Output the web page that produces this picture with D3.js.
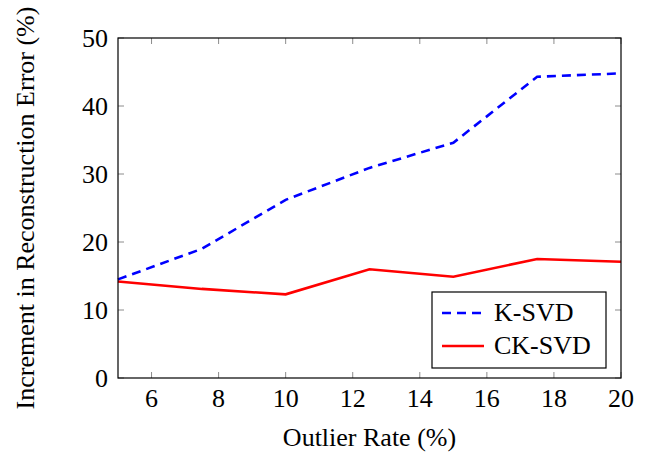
<!DOCTYPE html>
<html>
<head>
<meta charset="utf-8">
<script src="https://cdn.jsdelivr.net/npm/d3@7"></script>
</head>
<body style="margin:0; background:#fff">
<div id="chart"></div>
<script>
// Data
const outlierRates = [5, 7.5, 10, 12.5, 15, 17.5, 20];
const ksvd = [14.5, 19.0, 26.2, 30.9, 34.6, 44.3, 44.8];
const cksvd = [14.2, 13.1, 12.3, 16.0, 14.9, 17.5, 17.1];
const xTicks = [6, 8, 10, 12, 14, 16, 18, 20];
const yTicks = [0, 10, 20, 30, 40, 50];
const seriesNames = ['K-SVD', 'CK-SVD'];

const W = 648, H = 452;
const margin = { top: 38, right: 27, bottom: 74, left: 118 };
const width = W - margin.left - margin.right;
const height = H - margin.top - margin.bottom;
const fontSize = 26;
const serif = 'Liberation Serif';

const svg = d3.select('#chart').append('svg')
    .attr('width', W)
    .attr('height', H)
    .attr('font-family', serif);

const g = svg.append('g')
    .attr('transform', `translate(${margin.left},${margin.top})`);

const x = d3.scaleLinear().domain([5, 20]).range([0, width]);
const y = d3.scaleLinear().domain([0, 50]).range([height, 0]);

const tickColor = '#8c8c8c';
const tickLen = 6;

// Inner ticks, mirrored on all four sides
xTicks.forEach(t => {
    g.append('line').attr('x1', x(t)).attr('x2', x(t))
        .attr('y1', height).attr('y2', height - tickLen)
        .attr('stroke', tickColor).attr('stroke-width', 1);
    g.append('line').attr('x1', x(t)).attr('x2', x(t))
        .attr('y1', 0).attr('y2', tickLen)
        .attr('stroke', tickColor).attr('stroke-width', 1);
    g.append('text')
        .attr('x', x(t)).attr('y', height + 29)
        .attr('text-anchor', 'middle')
        .attr('font-family', serif)
        .attr('font-size', fontSize)
        .text(t);
});

yTicks.forEach(t => {
    g.append('line').attr('x1', 0).attr('x2', tickLen)
        .attr('y1', y(t)).attr('y2', y(t))
        .attr('stroke', tickColor).attr('stroke-width', 1);
    g.append('line').attr('x1', width).attr('x2', width - tickLen)
        .attr('y1', y(t)).attr('y2', y(t))
        .attr('stroke', tickColor).attr('stroke-width', 1);
    g.append('text')
        .attr('x', -10).attr('y', y(t) + 9)
        .attr('text-anchor', 'end')
        .attr('font-family', serif)
        .attr('font-size', fontSize)
        .text(t);
});

// Lines
const line = d3.line()
    .x((d, i) => x(outlierRates[i]))
    .y(d => y(d));

g.append('path')
    .datum(cksvd)
    .attr('d', line)
    .attr('fill', 'none')
    .attr('stroke', '#ff0000')
    .attr('stroke-width', 2.6);

g.append('path')
    .datum(ksvd)
    .attr('d', line)
    .attr('fill', 'none')
    .attr('stroke', '#0000ff')
    .attr('stroke-width', 2.6)
    .attr('stroke-dasharray', '9,6');

// Frame
g.append('rect')
    .attr('width', width).attr('height', height)
    .attr('fill', 'none')
    .attr('stroke', '#000')
    .attr('stroke-width', 1.2);

// Legend
const legend = svg.append('g').attr('transform', 'translate(432,292)');
legend.append('rect')
    .attr('width', 174).attr('height', 76)
    .attr('fill', '#fff')
    .attr('stroke', '#000')
    .attr('stroke-width', 1.2);

const legendStyles = [
    { color: '#0000ff', dash: '9,6' },
    { color: '#ff0000', dash: null }
];
seriesNames.forEach((name, i) => {
    const yy = 21 + i * 33;
    legend.append('line')
        .attr('x1', 10).attr('x2', 52)
        .attr('y1', yy).attr('y2', yy)
        .attr('stroke', legendStyles[i].color)
        .attr('stroke-width', 2.6)
        .attr('stroke-dasharray', legendStyles[i].dash);
    legend.append('text')
        .attr('x', 62).attr('y', yy + 8)
        .attr('font-family', serif)
        .attr('font-size', fontSize)
        .text(name);
});

// Axis labels
svg.append('text')
    .attr('x', margin.left + width / 2)
    .attr('y', 446)
    .attr('text-anchor', 'middle')
    .attr('font-family', serif)
    .attr('font-size', fontSize)
    .text('Outlier Rate (%)');

svg.append('text')
    .attr('transform', `translate(34,${margin.top + height / 2}) rotate(-90)`)
    .attr('text-anchor', 'middle')
    .attr('font-family', serif)
    .attr('font-size', fontSize)
    .text('Increment in Reconstruction Error (%)');
</script>
</body>
</html>
